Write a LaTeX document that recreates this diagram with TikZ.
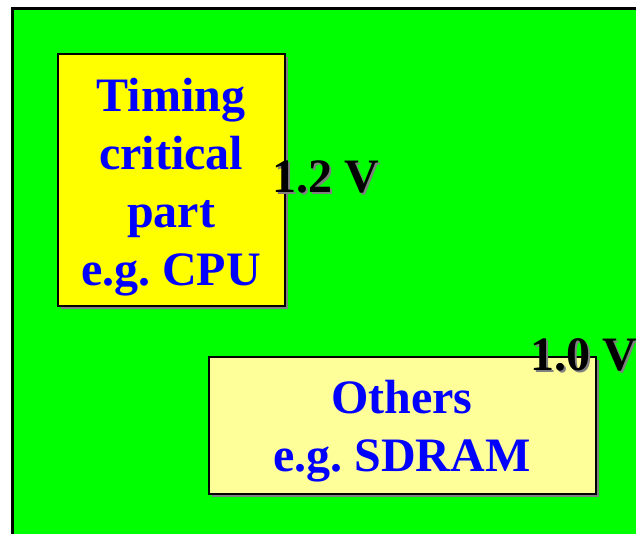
\documentclass[tikz,border=0pt]{standalone}
\usepackage{fontspec}
\setmainfont{Liberation Serif}
\definecolor{chipgreen}{RGB}{0,255,0}
\definecolor{cpuyellow}{RGB}{255,255,0}
\definecolor{ramyellow}{RGB}{255,255,153}
\definecolor{shadowgray}{RGB}{128,128,128}
\usetikzlibrary{positioning}

\begin{document}
\begin{tikzpicture}[x=1pt, y=-1pt,
      block/.style={rectangle, draw=black, line width=2.5pt, inner sep=0pt},
      blockshadow/.style={rectangle, fill=shadowgray, inner sep=0pt},
      parttext/.style={align=center, text=blue, inner sep=0pt,
                       font=\fontsize{48}{58}\selectfont\bfseries},
      volt/.style={anchor=base, inner sep=0pt,
                   font=\fontsize{48}{58}\selectfont\bfseries}
    ]
    \useasboundingbox (0,0) rectangle (636,534);
    \clip (0,0) rectangle (636,534);

    % chip area
    \draw[line width=3pt, fill=chipgreen] (12.5,9) rectangle (680,580);

    % timing critical block
    \node[blockshadow, minimum width=227pt, minimum height=252pt] (cpushadow) at (174,183) {};
    \node[block, fill=cpuyellow, minimum width=227pt, minimum height=252pt] (cpu) at (171.5,180) {};
    \node[parttext] (cputext) at (171,187) {Timing\\critical\\part\\e.g.\ CPU};

    % other blocks
    \node[blockshadow, minimum width=387pt, minimum height=137pt] (ramshadow) at (405,428.5) {};
    \node[block, fill=ramyellow, minimum width=387pt, minimum height=137pt] (ram) at (402.5,425.5) {};
    \node[parttext] (ramtext) at (402,431) {Others\\e.g.\ SDRAM};

    % supply voltages
    \node[volt, text=shadowgray] (vcpushadow) at (328,195) {1.2 V};
    \node[volt] (vcpu) at (326,193) {1.2 V};
    \node[volt, text=shadowgray] (vramshadow) at (585.5,372) {1.0 V};
    \node[volt] (vram) at (583.5,370) {1.0 V};
\end{tikzpicture}
\end{document}
